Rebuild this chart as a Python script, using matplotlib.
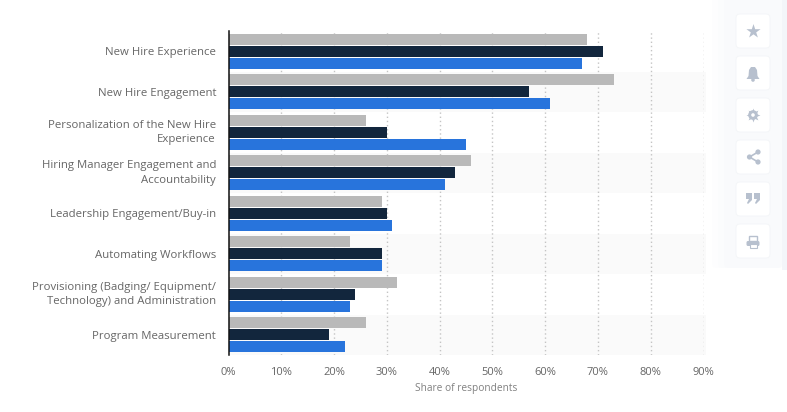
import matplotlib.pyplot as plt
from matplotlib.patches import FancyBboxPatch, Circle, Rectangle, Polygon
from matplotlib.transforms import ScaledTranslation

plt.rcParams['font.family'] = ['Open Sans', 'DejaVu Sans']

categories = [
    'New Hire Experience',
    'New Hire Engagement',
    'Personalization of the New Hire\nExperience',
    'Hiring Manager Engagement and\nAccountability',
    'Leadership Engagement/Buy-in',
    'Automating Workflows',
    'Provisioning (Badging/ Equipment/\nTechnology) and Administration',
    'Program Measurement',
]
series_gray = [68, 73, 26, 46, 29, 23, 32, 26]
series_navy = [71, 57, 30, 43, 30, 29, 24, 19]
series_blue = [67, 61, 45, 41, 31, 29, 23, 22]
x_ticks = [0, 10, 20, 30, 40, 50, 60, 70, 80, 90]

W, H = 787, 412
fig = plt.figure(figsize=(W / 100, H / 100), dpi=100, facecolor='white')

# plot area in pixels: x 228.5..703.5, y 31..355
ax = fig.add_axes([228.5 / W, 1 - 355 / H, 475 / W, 324 / H])
ax.set_xlim(0, 90)
ax.set_ylim(len(categories) - 0.5, -0.5)
ax.set_facecolor('none')

# alternating bands
for i in range(1, len(categories), 2):
    ax.axhspan(i - 0.5, i + 0.5, xmin=0, xmax=1.006, color='#fafafa', lw=0, zorder=0, clip_on=False)

for x in x_ticks[1:]:
    ax.axvline(x, color='#c4c4c4', lw=1, ls=(0, (1, 2)), zorder=1)

ypos = list(range(len(categories)))
h = 0.28
ax.barh([y - 0.295 for y in ypos], series_gray, height=h, color='#b9b9b9', zorder=2)
ax.barh(ypos, series_navy, height=h, color='#12263d', zorder=2)
ax.barh([y + 0.295 for y in ypos], series_blue, height=h, color='#2874dc', zorder=2)

for s in ['top', 'right', 'bottom']:
    ax.spines[s].set_visible(False)
ax.spines['left'].set_color('#111111')
ax.spines['left'].set_linewidth(1.1)
ax.spines['left'].set_zorder(3)

ax.set_yticks(ypos)
ax.set_yticklabels(categories, fontsize=8.2, color='#666666', linespacing=1.42, ha='right')
ax.tick_params(axis='y', length=0, pad=9)
# two-line labels sit a little higher than matplotlib centres them
for lab in ax.get_yticklabels():
    if '\n' in lab.get_text():
        lab.set_transform(lab.get_transform() + ScaledTranslation(0, 3 / 100, fig.dpi_scale_trans))
ax.set_xticks(x_ticks)
ax.set_xticklabels([f'{x}%' for x in x_ticks], fontsize=8, color='#666666')
ax.tick_params(axis='x', length=0, pad=8.5)
ax.set_xlabel('Share of respondents', fontsize=7.3, color='#808080', labelpad=4)

# sidebar with buttons, drawn in pixel coordinates
side = fig.add_axes([0, 0, 1, 1], zorder=5)
side.set_xlim(0, W)
side.set_ylim(H, 0)
side.axis('off')
side.patch.set_alpha(0)
side.add_patch(Rectangle((782, -5), 6, 275, fc='#f3f5f9', ec='none'))
for left, col in [(712, '#fdfdfe'), (718, '#fbfcfd'), (724, '#f9fafc')]:
    side.add_patch(FancyBboxPatch((left, -20), 782 - left, 288, boxstyle='round,pad=0,rounding_size=5',
                                  fc=col, ec='none'))
icon = '#b7c0ce'
tops = [14, 56, 98, 140, 182, 224]
for t in tops:
    side.add_patch(FancyBboxPatch((736, t), 34, 34, boxstyle='round,pad=0,rounding_size=4',
                                  fc='white', ec='#f3f5f8', lw=0.6))
cx = 753
# star
side.scatter([cx], [31], marker='*', s=115, color=icon, lw=0)
# bell
side.add_patch(Polygon([(746.5, 79), (748.5, 76), (749, 70), (751, 67), (755, 67), (757, 70),
                        (757.5, 76), (759.5, 79)], fc=icon, ec='none'))
side.add_patch(Circle((cx, 80), 1.8, fc=icon, ec='none'))
# gear
side.scatter([cx], [115], marker=(8, 1, 0), s=100, color=icon, lw=0)
side.add_patch(Circle((cx, 115), 4.8, fc=icon, ec='none'))
side.add_patch(Circle((cx, 115), 1.8, fc='white', ec='none'))
# share
side.plot([758, 749.5, 758], [152, 157, 162], color=icon, lw=1.2)
for px, py in [(758, 152), (749.5, 157), (758, 162)]:
    side.add_patch(Circle((px, py), 2.6, fc=icon, ec='none'))
# quotes
for qx in [749, 757]:
    side.add_patch(Rectangle((qx - 3, 193), 6, 6, fc=icon, ec='none'))
    side.add_patch(Polygon([(qx + 3, 199), (qx + 3, 200), (qx - 1, 204), (qx - 2, 203), (qx, 199)], fc=icon, ec='none'))
# printer
side.add_patch(Rectangle((749, 236), 8, 5, fc='white', ec=icon, lw=1))
side.add_patch(FancyBboxPatch((746.5, 241), 13, 5, boxstyle='round,pad=0,rounding_size=1.5', fc=icon, ec='none'))
side.add_patch(Rectangle((749.5, 244), 7, 3.5, fc='white', ec=icon, lw=0.8))

fig.savefig('out.png', dpi=100)
